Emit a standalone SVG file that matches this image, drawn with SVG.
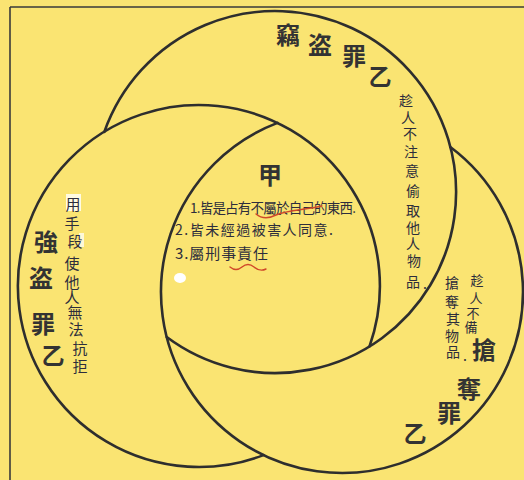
<svg xmlns="http://www.w3.org/2000/svg" width="524" height="480" viewBox="0 0 524 480">
<style>
.bg{fill:#FAE472}
.frame{stroke:#3a3a3a;stroke-width:1.6;fill:none}
.ring{stroke:#2e2e2e;stroke-width:2.6;fill:none;stroke-linecap:round}
.big{font-family:"Noto Sans CJK TC","Noto Sans CJK SC",sans-serif;font-weight:700;font-size:24px;fill:#333;text-anchor:middle;dominant-baseline:central}
.yi{font-family:"Noto Sans CJK TC","Noto Sans CJK SC",sans-serif;font-weight:700;font-size:23px;fill:#333;text-anchor:middle;dominant-baseline:central}
.hw{font-family:"Noto Sans CJK TC","Noto Sans CJK SC",sans-serif;font-weight:400;fill:#2d2d3c;text-anchor:middle;dominant-baseline:central}
.hl{font-family:"Noto Sans CJK TC","Noto Sans CJK SC",sans-serif;font-weight:400;fill:#2d2d3c;dominant-baseline:central}
.wave{stroke:#D0492A;stroke-width:1.4;fill:none;stroke-linecap:round}
</style>
<rect class="bg" x="0" y="0" width="524" height="480"/>
<path class="frame" d="M10,7 H524 M10,7 V480"/>

<g id="connectors">
<path class="ring" d="M104.4,131.8 A181,181 0 1,1 166.7,337.0"/>
<path class="ring" d="M263.5,455.1 A181,181 0 1,1 369.6,346.2"/>
<path class="ring" d="M450.3,147.0 A181,181 0 1,1 277.5,122.9"/>
</g>

<g id="theft">
<text class="big" x="288" y="33">竊</text>
<text class="big" x="320" y="43">盗</text>
<text class="big" x="354" y="54">罪</text>
<text class="yi" x="380" y="75">乙</text>
<text class="hw" font-size="14" x="406 408 410 411 412 413 413 413 413 414 413" y="100 117 133 151 170 190 210 227 243 260 281">趁人不注意偷取他人物品</text>
<text class="hw" font-size="14" x="425" y="283">.</text>
</g>

<g id="robbery">
<rect x="66" y="194" width="15" height="17" fill="#fffdf0" opacity="0.9"/>
<rect x="79" y="233" width="5" height="14" fill="#fffdf0" opacity="0.8"/>
<text class="big" x="46" y="240">強</text>
<text class="big" x="41" y="276">盗</text>
<text class="big" x="43" y="322">罪</text>
<text class="yi" x="53" y="354">乙</text>
<text class="hw" font-size="15" x="73 72 75 72 72 72 75 76 80 80" y="203 222 240 262 281 296 311 328 347 365">用手段使他人無法抗拒</text>
</g>

<g id="snatching">
<text class="hw" font-size="13" x="477 476 473 471" y="279 297 312 326">趁人不備</text>
<text class="hw" font-size="14" x="452 452 453 452 453" y="282 301 318 335 351">搶奪其物品</text>
<text class="hw" font-size="14" x="465" y="355">.</text>
<text class="big" x="484" y="348">搶</text>
<text class="big" x="469" y="387">奪</text>
<text class="big" x="449" y="411">罪</text>
<text class="yi" x="415" y="432">乙</text>
</g>

<g id="common">
<text class="big" x="270" y="173">甲</text>
<text class="hl" font-size="13.5" x="190" y="207" textLength="166" lengthAdjust="spacing">1.皆是占有不屬於自己的東西.</text>
<text class="hl" font-size="14" x="175" y="229" textLength="158" lengthAdjust="spacing">2.皆未經過被害人同意.</text>
<text class="hl" font-size="15" x="175" y="252" textLength="93" lengthAdjust="spacing">3.屬刑事責任</text>
<path class="wave" d="M256,214 C262,219 268,219 276,215 C288,210 305,210 322,206"/>
<path class="wave" d="M230,267 q6,5 12,0 t12,0 t12,2"/>
<ellipse cx="180" cy="278" rx="6" ry="5" fill="#ffffff"/>
</g>
</svg>
